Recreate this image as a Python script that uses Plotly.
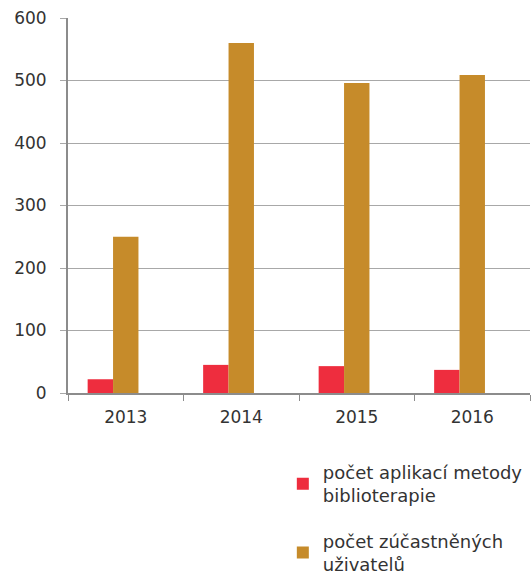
import plotly.graph_objects as go

years = ['2013', '2014', '2015', '2016']
aplikace = [22, 45, 43, 37]
uzivatele = [250, 560, 496, 509]
series_names = ['počet aplikací metody<br>biblioterapie', 'počet zúčastněných<br>uživatelů']
colors = ['#ee2d3e', '#c68b2a']

FONT = 'DejaVu Sans'

fig = go.Figure()
fig.add_trace(go.Bar(x=years, y=aplikace, name=series_names[0],
                     marker=dict(color=colors[0], line=dict(width=0)),
                     legendgroup='a'))
fig.add_trace(go.Bar(x=years, y=uzivatele, name=series_names[1],
                     marker=dict(color=colors[1], line=dict(width=0)),
                     legendgroup='b'))
# empty third slot, keeps the bars shifted left within each category
fig.add_trace(go.Bar(x=years, y=[None] * len(years), showlegend=False,
                     hoverinfo='skip'))

fig.update_layout(
    width=531, height=576,
    barmode='group', bargap=0.34, bargroupgap=0,
    plot_bgcolor='white', paper_bgcolor='white',
    font=dict(family=FONT, size=17, color='#333333'),
    margin=dict(l=68, r=1, t=18, b=183, autoexpand=False),
    showlegend=True,
    legend=dict(x=0.465, y=-0.162, xanchor='left', yanchor='top',
                font=dict(size=18, color='#333333'),
                tracegroupgap=19, itemwidth=30),
    xaxis=dict(showline=True, linecolor='#8c8c8c', linewidth=2,
               ticks='outside', tickson='boundaries', ticklen=6,
               tickcolor='#8c8c8c', tickwidth=1, showgrid=False,
               ticklabelstandoff=8, automargin=False),
    yaxis=dict(range=[0, 600], dtick=100, showline=True, linecolor='#8c8c8c',
               linewidth=2, gridcolor='#a8a8a8', gridwidth=1,
               ticks='outside', ticklen=6, tickcolor='#a8a8a8', zeroline=False,
               ticklabelstandoff=10, ticklabeloverflow='allow',
               automargin=False),
)

# drop the default page margin so the figure fills the window exactly
fig.write_html("out.html", config={'displayModeBar': False},
               post_script="document.body.style.margin='0';")
